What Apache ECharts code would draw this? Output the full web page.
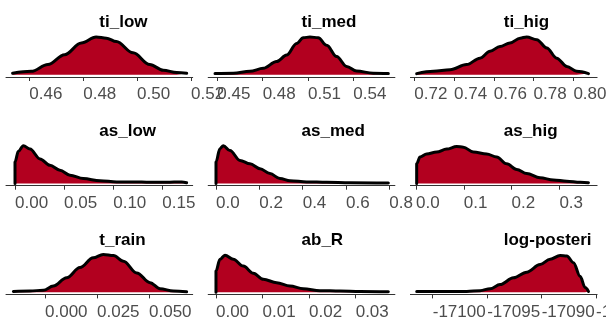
<!DOCTYPE html>
<html><head><meta charset="utf-8">
<script src="https://cdn.jsdelivr.net/npm/echarts@6/dist/echarts.min.js"></script>
<style>html,body{margin:0;padding:0;background:#fff}#c{width:606px;height:323px}</style>
</head><body><div id="c"></div>
<script>
// ---- data ----
const titles = ['ti_low', 'ti_med', 'ti_hig', 'as_low', 'as_med', 'as_hig', 't_rain', 'ab_R', 'log-posterior'];

// relative posterior density (peak = 1) : [value, height]
const densTiLow = [[0.4538,0.04],[0.4607,0.09],[0.4669,0.27],[0.4731,0.53],[0.4793,0.84],[0.4848,1.0],[0.4886,0.97],[0.4923,0.88],[0.4985,0.58],[0.5047,0.27],[0.5097,0.12],[0.5147,0.06],[0.5184,0.04]];
const densTiMed = [[0.4485,0.03],[0.4606,0.04],[0.4716,0.09],[0.4804,0.17],[0.4893,0.35],[0.4959,0.52],[0.5025,0.83],[0.5069,0.98],[0.5113,1.0],[0.5168,0.98],[0.5224,0.78],[0.5290,0.48],[0.5356,0.22],[0.5422,0.10],[0.5532,0.04],[0.5632,0.03]];
const densTiHig = [[0.7212,0.03],[0.7296,0.09],[0.7380,0.13],[0.7463,0.27],[0.7530,0.44],[0.7581,0.62],[0.7631,0.75],[0.7681,0.84],[0.7732,0.97],[0.7765,1.0],[0.7816,0.93],[0.7866,0.71],[0.7916,0.44],[0.7967,0.22],[0.8017,0.09],[0.8076,0.03]];
const densAsLow = [[0.0,0],[0.0,0.57],[0.0034,0.85],[0.0085,1.0],[0.0153,0.91],[0.0255,0.65],[0.0356,0.48],[0.0458,0.35],[0.0560,0.22],[0.0696,0.13],[0.0866,0.07],[0.1035,0.04],[0.1205,0.04],[0.1375,0.03],[0.1545,0.03],[0.1697,0.04],[0.1748,0.02]];
const densAsMed = [[0.0,0],[0.0,0.57],[0.0180,0.92],[0.0338,1.0],[0.0646,0.87],[0.1108,0.61],[0.1569,0.52],[0.2031,0.39],[0.2492,0.26],[0.2954,0.13],[0.3415,0.07],[0.4185,0.04],[0.5108,0.03],[0.6185,0.02],[0.7954,0.01]];
const densAsHig = [[0.0014,0],[0.0014,0.52],[0.0084,0.70],[0.0223,0.78],[0.0433,0.83],[0.0642,0.91],[0.0851,0.98],[0.0991,0.96],[0.1200,0.83],[0.1479,0.78],[0.1689,0.70],[0.1898,0.52],[0.2107,0.37],[0.2317,0.26],[0.2596,0.15],[0.2875,0.09],[0.3154,0.06],[0.3433,0.03],[0.3608,0.02]];
const densTRain = [[-0.0152,0.02],[-0.0072,0.03],[-0.0008,0.05],[0.0040,0.16],[0.0104,0.38],[0.0168,0.65],[0.0232,0.91],[0.0280,1.0],[0.0329,0.97],[0.0377,0.82],[0.0441,0.51],[0.0505,0.25],[0.0553,0.09],[0.0617,0.03],[0.0681,0.01]];
const densAbR = [[0.0,0],[0.0,0.56],[0.00086,0.87],[0.00193,0.98],[0.00372,0.87],[0.00587,0.69],[0.00802,0.50],[0.01016,0.34],[0.01303,0.25],[0.01589,0.16],[0.01875,0.09],[0.02233,0.04],[0.02663,0.03],[0.03092,0.02],[0.03701,0.01]];
const densLogPost = [[-17101.47,0.02],[-17099.94,0.02],[-17098.41,0.02],[-17096.88,0.02],[-17095.65,0.04],[-17094.73,0.09],[-17093.82,0.20],[-17092.59,0.38],[-17091.37,0.53],[-17090.14,0.73],[-17089.22,0.87],[-17088.30,0.97],[-17087.69,0.96],[-17087.08,0.78],[-17086.47,0.42],[-17086.01,0.12],[-17085.70,0.02]];

const xMins = [0.45135, 0.44398, 0.71804, -0.00917, -0.0360, -0.01172, -0.01875, -0.00167, -17102.05];
const xMaxs = [0.52063, 0.56754, 0.81192, 0.18096, 0.8256, 0.3789, 0.07101, 0.03842, -17084.91];

const tickValues = [
  [0.46, 0.48, 0.50, 0.52],
  [0.45, 0.48, 0.51, 0.54],
  [0.72, 0.74, 0.76, 0.78, 0.80],
  [0.00, 0.05, 0.10, 0.15],
  [0.0, 0.2, 0.4, 0.6, 0.8],
  [0.0, 0.1, 0.2, 0.3],
  [0.000, 0.025, 0.050],
  [0.00, 0.01, 0.02, 0.03],
  [-17100, -17095, -17090, -17085]
];
const tickLabels = [
  ['0.46', '0.48', '0.50', '0.52'],
  ['0.45', '0.48', '0.51', '0.54'],
  ['0.72', '0.74', '0.76', '0.78', '0.80'],
  ['0.00', '0.05', '0.10', '0.15'],
  ['0.0', '0.2', '0.4', '0.6', '0.8'],
  ['0.0', '0.1', '0.2', '0.3'],
  ['0.000', '0.025', '0.050'],
  ['0.00', '0.01', '0.02', '0.03'],
  ['-17100', '-17095', '-17090', '-17085']
];
const densities = [densTiLow, densTiMed, densTiHig, densAsLow, densAsMed, densAsHig, densTRain, densAbR, densLogPost];

// ---- layout ----
const panelLeft = [6, 208.2, 410.4];
const panelWidth = 186.7;
const rowTop = [37, 145.7, 254.4];
const rowAxis = [77, 185.7, 294.4];
const FONT = 'Liberation Sans, Arial, sans-serif';
const FILL = '#b2001f';

const grid = [], xAxis = [], yAxis = [], series = [], title = [];
titles.forEach((name, i) => {
  const col = i % 3, row = Math.floor(i / 3);
  grid.push({left: panelLeft[col], top: rowTop[row], width: panelWidth, height: rowAxis[row] - rowTop[row],
    containLabel: false, outerBoundsMode: 'none'});
  const ticks = tickValues[i], labs = tickLabels[i];
  xAxis.push({
    type: 'value', gridIndex: i, min: xMins[i], max: xMaxs[i],
    axisLine: {show: true, onZero: false, lineStyle: {color: '#333', width: 1}},
    axisTick: {show: true, customValues: ticks, length: 4, lineStyle: {color: '#333', width: 1}},
    axisLabel: {
      customValues: ticks, align: 'left', margin: 9, fontSize: 17, color: '#4d4d4d', fontFamily: FONT,
      hideOverlap: false, showMinLabel: true, showMaxLabel: true,
      formatter: v => { const k = ticks.findIndex(t => Math.abs(t - v) < 1e-9 * Math.max(1, Math.abs(t))); return k >= 0 ? labs[k] : ''; }
    },
    splitLine: {show: false}
  });
  yAxis.push({type: 'value', gridIndex: i, min: -0.06, max: 1, show: false});
  series.push({
    type: 'line', xAxisIndex: i, yAxisIndex: i, data: densities[i],
    showSymbol: false, smooth: 0.35, smoothMonotone: 'x', clip: false,
    lineStyle: {color: '#000', width: 3, cap: 'round', join: 'round'},
    areaStyle: {color: FILL, opacity: 1},
    z: 1
  });
  title.push({
    text: name, left: panelLeft[col] + panelWidth / 2, top: rowAxis[row] - 63,
    padding: 0,
    textStyle: {fontSize: 17, fontWeight: 'bold', color: '#000', fontFamily: FONT,
      width: panelWidth / 2, overflow: 'truncate', ellipsis: ''}
  });
});

const chart = echarts.init(document.getElementById('c'), null, {renderer: 'canvas'});
chart.setOption({animation: false, backgroundColor: '#fff', title, grid, xAxis, yAxis, series});
</script></body></html>
